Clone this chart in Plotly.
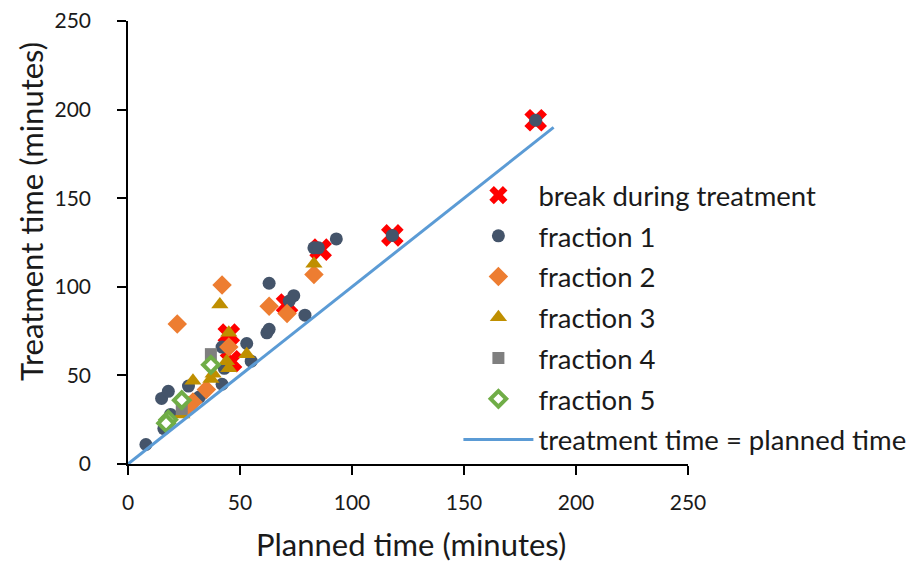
import plotly.graph_objects as go

# Data
break_x = [182, 118, 86, 71, 45, 46]
break_y = [194, 129, 121, 90, 73, 58]

f1_x = [8, 15, 18, 16, 17, 19, 27, 31, 32, 42, 42, 43, 53, 55, 62, 63, 63, 72, 74, 79, 83, 85, 93, 118, 182]
f1_y = [11, 37, 41, 20, 24, 28, 44, 37, 38, 45, 66, 54, 68, 58, 74, 76, 102, 92, 95, 84, 122, 122, 127, 129, 194]

f2_x = [22, 42, 63, 71, 83, 35, 29, 45, 27]
f2_y = [79, 101, 89, 85, 107, 42, 35, 66, 33]

f3_x = [41, 83, 45, 29, 37, 44, 45, 53, 24, 38]
f3_y = [90, 113, 74, 47, 48, 58, 54, 62, 28, 51]

f4_x = [37, 24]
f4_y = [62, 31]

f5_x = [37, 24, 18, 17]
f5_y = [56, 36, 25, 23]

line_x = [0, 190]
line_y = [0, 190]

x_ticks = [0, 50, 100, 150, 200, 250]
y_ticks = [0, 50, 100, 150, 200, 250]

FONT = "Lato, 'Open Sans', sans-serif"
TXT = "#1a1a1a"

fig = go.Figure()
fig.add_trace(go.Scatter(x=break_x, y=break_y, mode="markers", name="break during treatment",
                         marker=dict(symbol="x", size=20, color="#FF0000", line=dict(width=0)),
                         legendgroup="a"))
fig.add_trace(go.Scatter(x=f1_x, y=f1_y, mode="markers", name="fraction 1",
                         marker=dict(symbol="circle", size=13, color="#44546A"), legendgroup="b"))
fig.add_trace(go.Scatter(x=f2_x, y=f2_y, mode="markers", name="fraction 2",
                         marker=dict(symbol="diamond", size=15, color="#ED7D31"), legendgroup="c"))
fig.add_trace(go.Scatter(x=f3_x, y=f3_y, mode="markers", name="fraction 3",
                         marker=dict(symbol="triangle-up", size=15, color="#BF8F00"), legendgroup="d"))
fig.add_trace(go.Scatter(x=f4_x, y=f4_y, mode="markers", name="fraction 4",
                         marker=dict(symbol="square", size=12, color="#7F7F7F"), legendgroup="e"))
fig.add_trace(go.Scatter(x=f5_x, y=f5_y, mode="markers", name="fraction 5",
                         marker=dict(symbol="diamond", size=12, color="#FFFFFF",
                                     line=dict(color="#70AD47", width=4)), legendgroup="f"))
fig.add_trace(go.Scatter(x=line_x, y=line_y, mode="lines", name="treatment time = planned time",
                         line=dict(color="#5B9BD5", width=3), legendgroup="g"))

axis_common = dict(
    showline=True, linecolor="black", linewidth=1.5,
    ticks="outside", ticklen=9, tickcolor="black", tickwidth=1.5,
    showgrid=False, zeroline=False, automargin=False,
    ticklabeloverflow="allow",
    tickfont=dict(family=FONT, size=21, color=TXT),
)

# page body has an 8px margin; figure is sized to fit inside the window
W, H = 915, 558
L, T = 120, 13
PW, PH = 560, 443

fig.update_layout(
    width=W, height=H,
    margin=dict(l=L, r=W - L - PW, t=T, b=H - T - PH, autoexpand=False),
    plot_bgcolor="white", paper_bgcolor="white",
    font=dict(family=FONT, color=TXT),
    xaxis=dict(range=[0, 250], tickvals=x_ticks, ticklabelstandoff=10, **axis_common),
    yaxis=dict(range=[0, 250], tickvals=y_ticks, ticklabelstandoff=22, **axis_common),
    showlegend=True,
    legend=dict(
        x=0.590, y=0.662, xanchor="left", yanchor="top",
        bgcolor="rgba(0,0,0,0)",
        font=dict(family=FONT, size=27.5, color=TXT),
        traceorder="grouped", tracegroupgap=2,
        itemwidth=70,
    ),
)
fig.add_annotation(text="Planned time (minutes)",
                   x=(411 - 128) / PW, y=(464 - 565) / PH,
                   xref="paper", yref="paper", showarrow=False,
                   xanchor="center", yanchor="bottom",
                   font=dict(family=FONT, size=31, color=TXT))
fig.add_annotation(text="Treatment time (minutes)",
                   x=(31 - 128) / PW, y=(464 - 212) / PH,
                   xref="paper", yref="paper", showarrow=False, textangle=-90,
                   xanchor="center", yanchor="middle",
                   font=dict(family=FONT, size=31, color=TXT))

fig.write_html("out.html")
